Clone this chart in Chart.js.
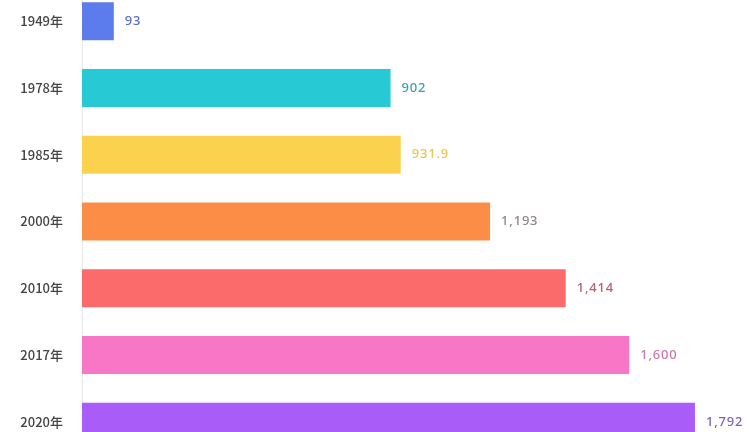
<!DOCTYPE html>
<html><head><meta charset="utf-8">
<script src="https://cdn.jsdelivr.net/npm/chart.js@4"></script>
<style>
html,body{margin:0;padding:0;background:#fff;overflow:hidden;width:749px;height:432px;}
#c{position:absolute;left:0;top:-39px;}
</style></head><body>
<canvas id="c" width="749" height="521"></canvas>
<script>
const categories = ['1949年','1978年','1985年','2000年','2010年','2017年','2020年'];
const values = [93, 902, 931.9, 1193, 1414, 1600, 1792];
const valueLabels = ['93','902','931.9','1,193','1,414','1,600','1,792'];
const barColors = ['#5d7ceb','#26c9d4','#fbd24e','#fb8d46','#fb6b6b','#f776c6','#a95cf7'];
const labelColors = ['#5a6cc8','#3a9fb0','#e6c84a','#8f8784','#b8606e','#c978ad','#7f62b8'];

const labelPlugin = {
  id: 'valueLabels',
  afterDatasetsDraw(chart) {
    const ctx = chart.ctx;
    const meta = chart.getDatasetMeta(0);
    ctx.save();
    ctx.font = '500 13px "Noto Sans", sans-serif';
    try { ctx.letterSpacing = '0.8px'; } catch (e) {}
    ctx.textBaseline = 'middle';
    ctx.textAlign = 'left';
    meta.data.forEach((bar, i) => {
      ctx.fillStyle = labelColors[i];
      ctx.fillText(valueLabels[i], bar.x + 11, bar.y);
    });
    ctx.restore();
  }
};

new Chart(document.getElementById('c'), {
  type: 'bar',
  data: {
    labels: categories,
    datasets: [{
      data: values,
      backgroundColor: barColors,
      borderWidth: 0,
      categoryPercentage: 1,
      barPercentage: 0.57
    }]
  },
  options: {
    indexAxis: 'y',
    responsive: false,
    animation: false,
    layout: { padding: 0 },
    plugins: { legend: { display: false }, tooltip: { enabled: false } },
    scales: {
      x: { display: false, min: 0, max: 1950 },
      y: {
        afterFit(scale) { scale.width = 82; },
        grid: { display: false, drawTicks: false },
        border: { display: true, color: '#e8e8e8', width: 1 },
        ticks: {
          padding: 19,
          color: '#444',
          font: { family: '"Noto Sans CJK SC", sans-serif', size: 13, weight: '500' }
        }
      }
    }
  },
  plugins: [labelPlugin]
});
</script>
</body></html>
